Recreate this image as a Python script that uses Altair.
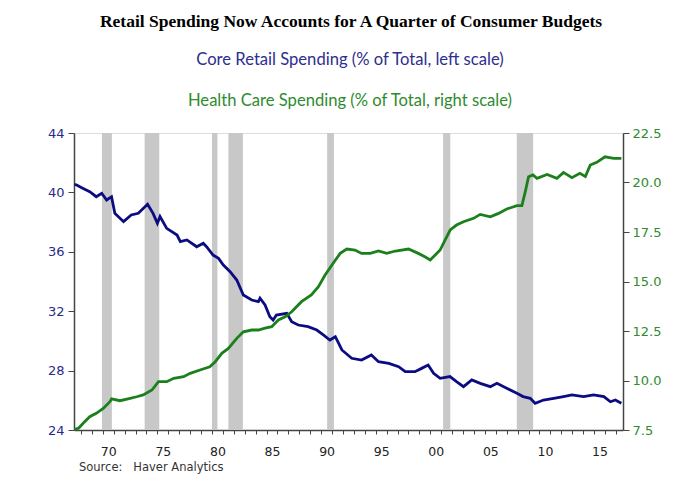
import altair as alt
import pandas as pd

# ---- text ----
title_text = ["Retail Spending Now Accounts for A Quarter of Consumer Budgets"]
sub_retail = ["Core Retail Spending (% of Total, left scale)"]
sub_health = ["Health Care Spending (% of Total, right scale)"]
source_text = ["Source:\u00a0\u00a0\u00a0Haver Analytics"]

# ---- core retail spending (% of total, left scale) ----
retail_t = [1967.4, 1967.6, 1968.2, 1968.8, 1969.4, 1969.9, 1970.35, 1970.8, 1971.1, 1971.9,
            1972.6, 1973.25, 1974.1, 1974.6, 1975.0, 1975.24, 1975.85, 1976.8, 1977.1, 1977.7,
            1978.6, 1979.2, 1979.5, 1980.1, 1980.6, 1981.04, 1981.66, 1982.27, 1982.87, 1983.64,
            1984.25, 1984.4, 1984.86, 1985.3, 1985.6, 1985.9, 1986.85, 1987.3, 1987.9, 1988.8,
            1989.6, 1990.2, 1990.8, 1991.3, 1991.9, 1992.8, 1993.7, 1994.6, 1995.25, 1996.2,
            1997.1, 1997.7, 1998.6, 1999.2, 1999.8, 2000.3, 2000.9, 2001.8, 2002.4, 2003.04,
            2003.8, 2004.57, 2005.5, 2006.1, 2007.0, 2007.93, 2008.5, 2009.15, 2009.6, 2010.37,
            2011.3, 2012.2, 2012.97, 2014.04, 2014.95, 2015.9, 2016.5, 2016.95, 2017.5]
retail_v = [40.55, 40.5, 40.27, 40.05, 39.71, 39.94, 39.49, 39.71, 38.59, 38.03,
            38.48, 38.59, 39.2, 38.59, 37.92, 38.37, 37.58, 37.13, 36.68, 36.8,
            36.34, 36.57, 36.34, 35.78, 35.56, 35.11, 34.66, 34.10, 33.09, 32.75,
            32.64, 32.87, 32.42, 31.63, 31.41, 31.74, 31.86, 31.29, 31.07, 30.96,
            30.73, 30.40, 30.06, 30.28, 29.39, 28.83, 28.71, 29.05, 28.60, 28.49,
            28.26, 27.93, 27.93, 28.15, 28.38, 27.82, 27.48, 27.6, 27.26, 26.92,
            27.37, 27.14, 26.92, 27.14, 26.81, 26.47, 26.25, 26.13, 25.80, 26.02,
            26.13, 26.25, 26.36, 26.25, 26.36, 26.25, 25.9, 26.02, 25.8]

# ---- health care spending (% of total, right scale) ----
health_t = [1967.4, 1967.8, 1968.2, 1968.8, 1969.4, 1970.04, 1970.65, 1970.8, 1971.57, 1972.5,
            1973.1, 1973.7, 1974.5, 1975.1, 1975.85, 1976.5, 1977.4, 1978.0, 1978.9, 1979.8,
            1980.3, 1980.9, 1981.5, 1982.27, 1982.87, 1983.64, 1984.25, 1984.86, 1985.47, 1986.08,
            1986.7, 1987.3, 1988.2, 1989.1, 1989.75, 1990.36, 1991.1, 1991.74, 1992.35, 1993.1,
            1993.7, 1994.5, 1995.25, 1996.0, 1996.8, 1998.0, 1998.9, 1999.5, 1999.99, 2000.45,
            2000.9, 2001.36, 2001.82, 2002.4, 2003.04, 2003.96, 2004.57, 2005.5, 2006.25, 2007.0,
            2007.93, 2008.39, 2008.7, 2009.0, 2009.4, 2009.77, 2010.7, 2011.6, 2012.2, 2012.97,
            2013.7, 2014.2, 2014.65, 2015.25, 2016.0, 2016.8, 2017.5]
health_v = [7.52, 7.6, 7.84, 8.17, 8.34, 8.59, 8.93, 9.07, 8.98, 9.10,
            9.18, 9.27, 9.52, 9.94, 9.94, 10.11, 10.19, 10.36, 10.53, 10.69,
            10.95, 11.37, 11.62, 12.13, 12.46, 12.55, 12.55, 12.64, 12.72, 13.06,
            13.22, 13.47, 13.98, 14.32, 14.74, 15.33, 15.92, 16.42, 16.64, 16.59,
            16.42, 16.42, 16.54, 16.42, 16.54, 16.64, 16.42, 16.25, 16.09, 16.34,
            16.59, 17.1, 17.6, 17.85, 18.02, 18.19, 18.39, 18.27, 18.44, 18.66,
            18.83, 18.83, 19.54, 20.29, 20.38, 20.21, 20.41, 20.21, 20.51, 20.24,
            20.46, 20.3, 20.88, 21.02, 21.30, 21.22, 21.22]

# ---- recessions ----
rec_start = [1969.92, 1973.83, 1980.0, 1981.5, 1990.55, 2001.17, 2007.92]
rec_end = [1970.83, 1975.17, 1980.5, 1982.83, 1991.17, 2001.83, 2009.42]

# ---- axis ticks ----
x_tick_years = list(range(1968, 2018))
left_ticks = [24, 28, 32, 36, 40, 44]
right_ticks = [7.5, 10.0, 12.5, 15.0, 17.5, 20.0, 22.5]

retail_df = pd.DataFrame({"t": retail_t, "v": retail_v})
health_df = pd.DataFrame({"t": health_t, "h": health_v})
rec_df = pd.DataFrame({"start": rec_start, "end": rec_end})

W, H = 549, 297
x_scale = alt.Scale(domain=[1967.36, 2017.65], nice=False, zero=False)
x_axis = alt.Axis(
    values=x_tick_years,
    labelExpr="datum.value % 5 == 0 ? slice(toString(datum.value), 2) : ''",
    labelOffset=5.45, labelOverlap=False, labelFlush=False,
    tickSize=4, labelPadding=11, title=None, grid=False,
    labelFont="DejaVu Sans", labelFontSize=12.5, labelColor="#222222",
    domainColor="#444444", tickColor="#444444", domainWidth=1.5,
)

rects = alt.Chart(rec_df).mark_rect(color="#c8c8c8").encode(
    x=alt.X("start:Q", scale=x_scale, axis=x_axis),
    x2="end:Q",
)

blue = alt.Chart(retail_df).mark_line(color="#0c0c82", strokeWidth=2.8).encode(
    x=alt.X("t:Q", scale=x_scale, axis=x_axis),
    y=alt.Y("v:Q", scale=alt.Scale(domain=[24, 44], nice=False, zero=False),
            axis=alt.Axis(orient="left", values=left_ticks, title=None, grid=False,
                          tickSize=6, labelPadding=4, labelFont="DejaVu Sans",
                          labelFontSize=13, labelColor="#2a2a8a",
                          domainColor="#444444", tickColor="#444444", domainWidth=1.5)),
)

green = alt.Chart(health_df).mark_line(color="#1b801b", strokeWidth=2.8).encode(
    x=alt.X("t:Q", scale=x_scale, axis=x_axis),
    y=alt.Y("h:Q", scale=alt.Scale(domain=[7.5, 22.5], nice=False, zero=False),
            axis=alt.Axis(orient="right", values=right_ticks, format=".1f", title=None,
                          grid=False, tickSize=6, labelPadding=3, labelFont="DejaVu Sans",
                          labelFontSize=13, labelColor="#2e8b2e",
                          domainColor="#444444", tickColor="#444444", domainWidth=1.5)),
)

def label(txt, x, y, color, font, size, weight="normal", align="center"):
    return alt.Chart(pd.DataFrame({"text": txt})).mark_text(
        font=font, fontSize=size, fontWeight=weight, color=color,
        align=align, baseline="middle",
    ).encode(text="text:N", x=alt.value(x), y=alt.value(y))

t1 = label(title_text, 277, -111, "#000000", "Liberation Serif", 17.5, "bold")
t2 = label(sub_retail, 276, -73, "#2e2e8f", "Lato", 16.6)
t3 = label(sub_health, 276, -32, "#2e8b2e", "Lato", 16.6)
t4 = label(source_text, 5, 335, "#333333", "DejaVu Sans", 11.5, align="left")

chart = alt.layer(rects, blue, green, t1, t2, t3, t4).resolve_scale(
    y="independent"
).properties(
    width=W, height=H,
    autosize=alt.AutoSizeParams(type="none"),
    padding={"left": 66, "top": 125, "right": 69, "bottom": 52},
).configure_view(
    stroke="#444444", strokeWidth=1.5
).configure(background="white")

chart.save("out.html", embed_options={"renderer": "svg", "actions": False})
